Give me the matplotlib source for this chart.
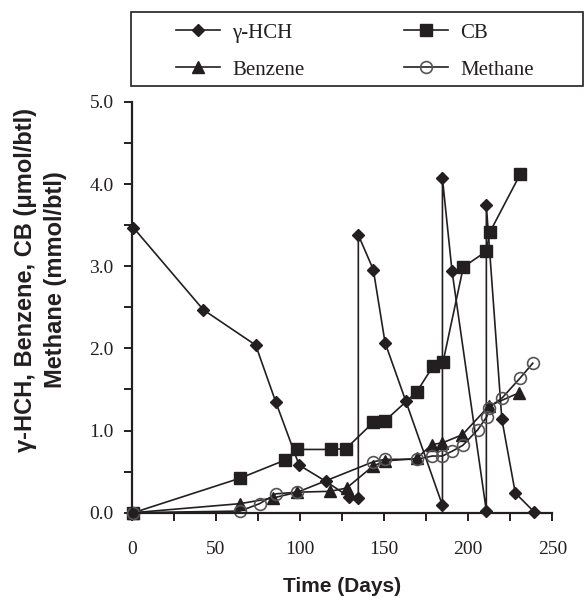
import matplotlib
matplotlib.use('Agg')
import matplotlib.pyplot as plt
from matplotlib.patches import Rectangle
from matplotlib.ticker import MultipleLocator, FormatStrFormatter

# --数据
hch_days = [1, 42.6, 73.7, 85.6, 99.5, 115.5, 129.4, 134.7, 134.7, 143.6, 150.6,
            162.9, 184.7, 184.7, 190.4, 210.8, 210.8, 220, 228, 239.2]
hch_vals = [3.47, 2.47, 2.04, 1.35, 0.58, 0.38, 0.19, 0.18, 3.38, 2.96, 2.07,
            1.36, 0.09, 4.07, 2.94, 0.02, 3.74, 1.14, 0.24, 0.01]

cb_days = [1, 64.4, 91.1, 98.5, 118.3, 127.4, 143.6, 150.6, 169.4, 179, 185,
           197.1, 210.6, 213, 230.9]
cb_vals = [0.0, 0.42, 0.64, 0.77, 0.77, 0.78, 1.10, 1.12, 1.47, 1.78, 1.83,
           2.99, 3.18, 3.42, 4.12]

benz_days = [1, 64.4, 84.2, 98.5, 117.9, 127.7, 143.6, 150.6, 169.4, 178.4,
             184.7, 196.6, 212.4, 230.3]
benz_vals = [0.0, 0.11, 0.18, 0.25, 0.26, 0.30, 0.57, 0.63, 0.66, 0.83,
             0.85, 0.95, 1.30, 1.46]

meth_days = [1, 64.4, 76, 85.8, 98.5, 143.6, 150.6, 169.4, 178.7, 184.7, 190.6,
             196.8, 205.7, 211.1, 212.4, 220.3, 230.9, 238.4]
meth_vals = [0.0, 0.02, 0.11, 0.23, 0.25, 0.62, 0.65, 0.65, 0.69, 0.69, 0.75,
             0.82, 1.01, 1.17, 1.28, 1.40, 1.64, 1.82]

labels = ['γ-HCH', 'CB', 'Benzene', 'Methane']

ink = '#231f20'
serif = ['Liberation Serif', 'DejaVu Serif']
sans = ['Liberation Sans', 'DejaVu Sans']

fig = plt.figure(figsize=(5.84, 5.98), dpi=100)
ax = fig.add_axes([131.7 / 584, 1 - 512.7 / 598, (552.3 - 131.7) / 584, (512.7 - 102) / 598])

common = dict(color=ink, lw=1.2, clip_on=False)
l1, = ax.plot(hch_days, hch_vals, marker='D', ms=6.5, mfc=ink, mec=ink, label=labels[0], **common)
l2, = ax.plot(cb_days, cb_vals, marker='s', ms=9, mfc=ink, mec=ink, label=labels[1], **common)
l3, = ax.plot(benz_days, benz_vals, marker='^', ms=9, mfc=ink, mec=ink, label=labels[2], **common)
l4, = ax.plot(meth_days, meth_vals, marker='o', ms=8.5, mfc='none', mec='#555555', mew=1.2,
              label=labels[3], **common)

ax.set_xlim(0, 250)
ax.set_ylim(0, 5)
ax.spines['top'].set_visible(False)
ax.spines['right'].set_visible(False)
for s in ('left', 'bottom'):
    ax.spines[s].set_linewidth(1.6)
    ax.spines[s].set_color(ink)

ax.xaxis.set_major_locator(MultipleLocator(50))
ax.xaxis.set_minor_locator(MultipleLocator(25))
ax.yaxis.set_major_locator(MultipleLocator(1.0))
ax.yaxis.set_minor_locator(MultipleLocator(0.5))
ax.yaxis.set_major_formatter(FormatStrFormatter('%.1f'))
ax.tick_params(which='both', direction='out', length=6, width=1.4, color=ink)
ax.tick_params(axis='x', which='major', pad=14.5)
ax.tick_params(axis='y', which='major', pad=7)
for t in ax.get_xticklabels() + ax.get_yticklabels():
    t.set_fontfamily(serif)
    t.set_fontsize(14)
    t.set_color(ink)

fig.text(342 / 584, 1 - 586 / 598, 'Time (Days)', ha='center', va='center',
         family=sans, fontweight='bold', fontsize=15, color=ink)
fig.text(40.5 / 584, 1 - 280 / 598, 'γ-HCH, Benzene, CB (μmol/btl)\nMethane (mmol/btl)',
         rotation=90, ha='center', va='center', multialignment='center',
         family=sans, fontweight='bold', fontsize=17, color=ink, linespacing=1.4)

# --图例框
fig.patches.append(Rectangle((131 / 584, 1 - 86 / 598), (583 - 131) / 584, (86 - 12.3) / 598,
                             transform=fig.transFigure, fill=False, ec=ink, lw=1.2))
# 按列填充, 所以顺序为 γ-HCH, Benzene | CB, Methane
leg = fig.legend([l1, l3, l2, l4], [labels[0], labels[2], labels[1], labels[3]],
                 ncol=2, loc='upper left',
                 bbox_to_anchor=(176 / 584, 1 - 23 / 598), frameon=False,
                 prop={'family': serif, 'size': 15}, handlelength=2.1,
                 handletextpad=0.6, columnspacing=4.78, labelspacing=0.84, borderpad=0,
                 borderaxespad=0)
for t in leg.get_texts():
    t.set_color(ink)

fig.savefig('out.png', dpi=100)
